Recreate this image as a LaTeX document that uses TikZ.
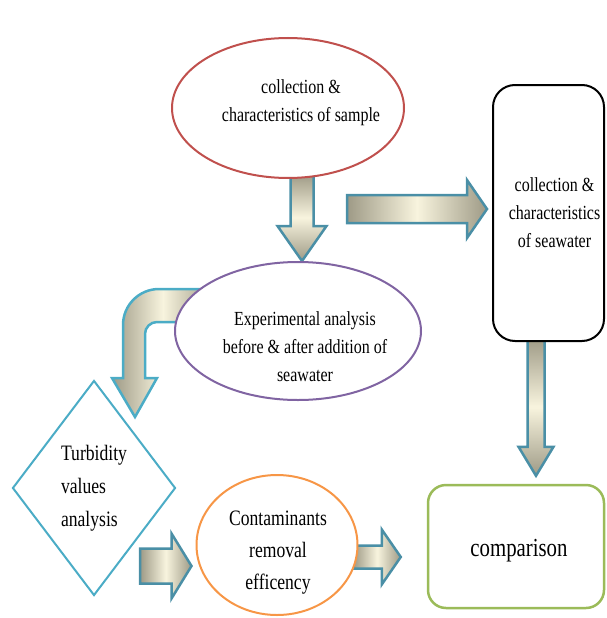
\documentclass[tikz,border=0pt]{standalone}
\usepackage{fontspec}
\setmainfont{Liberation Serif}[FakeStretch=0.8]
\usetikzlibrary{shapes.geometric,calc,backgrounds}

\definecolor{samplered}{HTML}{C0504D}
\definecolor{exppurple}{HTML}{8064A2}
\definecolor{cmpgreen}{HTML}{9BBB59}
\definecolor{turbcyan}{HTML}{4BACC6}
\definecolor{efforange}{HTML}{F79646}
\definecolor{arrowedge}{HTML}{4A8FA6}
\definecolor{arrowdark}{HTML}{9E9A86}
\definecolor{arrowlight}{HTML}{F8F4DE}

\tikzset{
  boxtext/.style={font=\fontsize{20}{28}\selectfont, align=center, inner sep=0pt},
  bigtext/.style={font=\fontsize{22}{32}\selectfont, align=center, inner sep=0pt},
  oval/.style={ellipse, draw, line width=2pt, fill=white, boxtext},
  roundbox/.style={rectangle, rounded corners=22pt, draw, line width=2pt, fill=white, boxtext},
  blockarrow/.style={draw=arrowedge, line width=2.5pt, line join=miter},
}

% horizontal block arrow: start, tip, shaft half width, head half width, head length
\newcommand{\hblock}[5]{%
  \path[blockarrow, left color=arrowdark, right color=arrowdark, middle color=arrowlight]
    let \p1=#1, \p2=#2 in
    (\x1,\y1-#3) -- (\x2-#5,\y1-#3) -- (\x2-#5,\y1-#4) -- (\x2,\y1)
    -- (\x2-#5,\y1+#4) -- (\x2-#5,\y1+#3) -- (\x1,\y1+#3) -- cycle;}
% vertical block arrow (pointing down)
\newcommand{\vblock}[5]{%
  \path[blockarrow, top color=arrowdark, bottom color=arrowdark, middle color=arrowlight]
    let \p1=#1, \p2=#2 in
    (\x1-#3,\y1) -- (\x1-#3,\y2+#5) -- (\x1-#4,\y2+#5) -- (\x1,\y2)
    -- (\x1+#4,\y2+#5) -- (\x1+#3,\y2+#5) -- (\x1+#3,\y1) -- cycle;}

\begin{document}
\begin{tikzpicture}[x=1pt, y=-1pt]
  \useasboundingbox (0,0) rectangle (606,618);

  % boxes
  \node[oval, draw=samplered, minimum width=232pt, minimum height=140pt,
        label={[boxtext, xshift=13pt, yshift=5pt]center:{collection \&\\characteristics of sample}}] (sample) at (288,108) {};
  \node[oval, draw=exppurple, minimum width=246pt, minimum height=138pt,
        label={[boxtext, xshift=7pt, yshift=-16pt]center:{Experimental analysis\\before \& after addition of\\seawater}}] (exp) at (298,331) {};
  \node[roundbox, draw=black, minimum width=111pt, minimum height=256pt,
        label={[boxtext, xshift=6pt]center:{collection \&\\characteristics\\of seawater}}] (sea) at (548.5,213) {};
  \node[roundbox, draw=cmpgreen, line width=2.5pt, rounded corners=18pt,
        minimum width=176pt, minimum height=123pt,
        label={[font=\fontsize{26}{30}\selectfont, xshift=3pt, yshift=-4pt]center:comparison}] (cmp) at (516,546.5) {};
  \node[diamond, aspect=0.76, draw=turbcyan, line width=2pt, fill=white, inner sep=0pt,
        minimum width=163pt, minimum height=215pt, align=left,
        font=\fontsize{22}{33}\selectfont] (turb) at (94,488)
    {Turbidity\\values\\analysis};
  \node[oval, draw=efforange, minimum width=161pt, minimum height=140pt,
        label={[bigtext, xshift=1pt, yshift=-8pt]center:{Contaminants\\removal\\efficency}}] (eff) at (277,545) {};

  % arrows
  \begin{scope}[on background layer]
    \coordinate (a1) at ($(sample.south)+(14,-5)$);
    \vblock{(a1)}{(a1 |- exp.north)}{11.5pt}{24.5pt}{35pt}
    \coordinate (a2) at (347,209);
    \hblock{(a2)}{($(a2 -| sea.west)+(-5,0)$)}{14pt}{29pt}{20pt}
    \coordinate (a3) at ($(sea.south)+(-12.5,-4)$);
    \vblock{(a3)}{($(a3 |- cmp.north)+(0,-8)$)}{8.5pt}{17.5pt}{29pt}
    \coordinate (a4) at (140,566);
    \hblock{(a4)}{($(a4 -| eff.west)+(-4,0)$)}{17.5pt}{32.5pt}{20pt}
    \coordinate (a5) at ($(eff.east)+(-5,12)$);
    \hblock{(a5)}{($(a5 -| cmp.west)+(-26,0)$)}{11.5pt}{27.5pt}{19pt}
    % bent arrow from exp to turb
    \path[draw=turbcyan, line width=2.5pt, left color=arrowdark, right color=arrowdark, middle color=arrowlight]
      ($(exp.west)+(40,-42)$) [rounded corners=36pt] -- (123,289) [sharp corners] -- (123,378)
      -- (112,378) -- (135,417) -- (157,378) -- (145,378) [rounded corners=12pt] -- (145,322)
      [sharp corners] -- ($(exp.west)+(40,-9)$) -- cycle;
  \end{scope}
\end{tikzpicture}
\end{document}
